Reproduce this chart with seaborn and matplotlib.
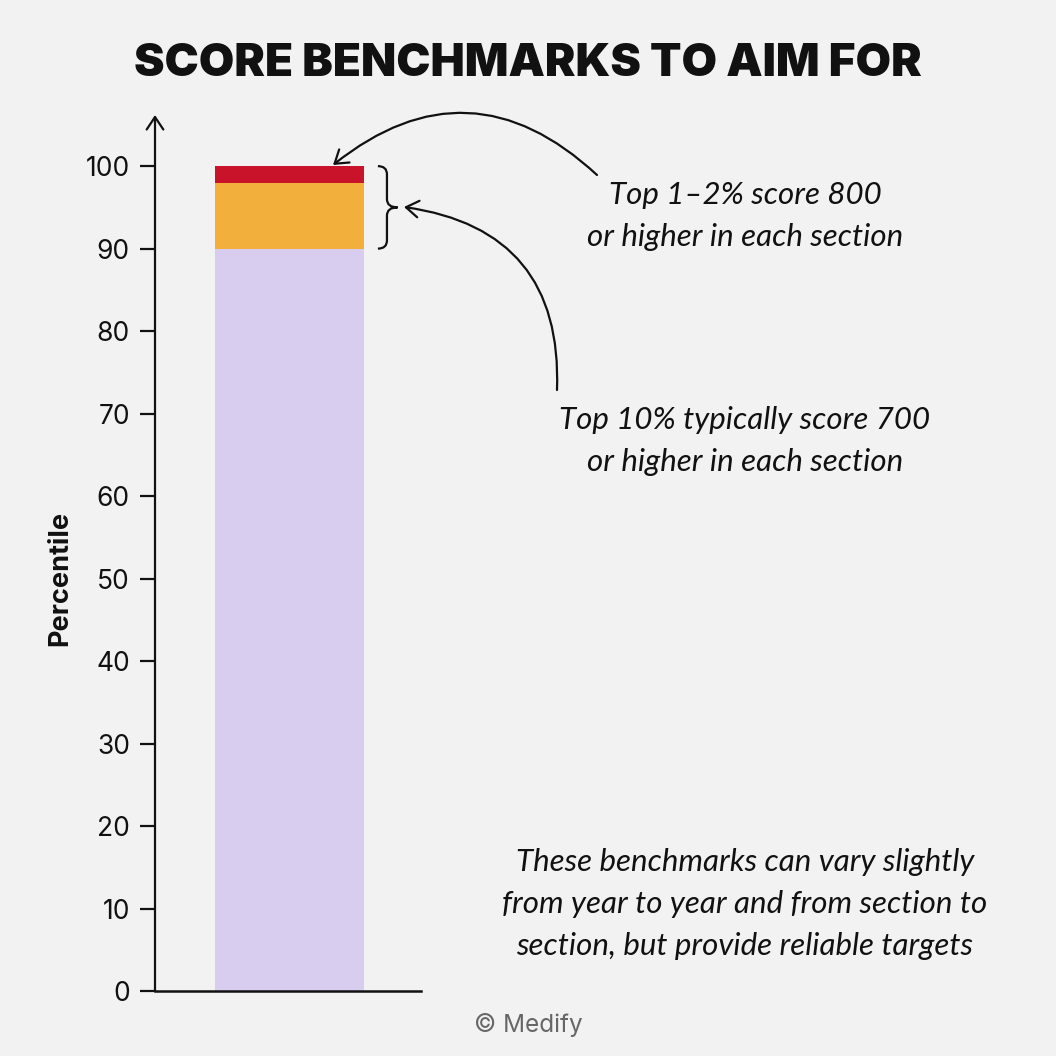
import matplotlib
matplotlib.use("Agg")
import matplotlib.pyplot as plt
from matplotlib.path import Path
from matplotlib.patches import PathPatch
import matplotlib.transforms as mtransforms
import seaborn as sns
import pandas as pd

# ---- data ----
segments = ["Top 1–2%", "Top 10%", "Rest"]
upper_values = [100, 98, 90]          # cumulative top of each stacked segment
segment_colors = ["#C8132B", "#F2AF3B", "#D8CDEF"]
ytick_values = [0, 10, 20, 30, 40, 50, 60, 70, 80, 90, 100]
title_text = "SCORE BENCHMARKS TO AIM FOR"
ylabel_text = "Percentile"
note_top = "Top 1–2% score 800\nor higher in each section"
note_ten = "Top 10% typically score 700\nor higher in each section"
note_bottom = ("These benchmarks can vary slightly\nfrom year to year and from section to\n"
               "section, but provide reliable targets")
credit_text = "© Medify"

BG = "#F2F2F2"
sns.set_theme(style="white")
plt.rcParams["font.family"] = ["Inter", "DejaVu Sans"]

W = 1056
fig = plt.figure(figsize=(10.56, 10.56), dpi=100, facecolor=BG)
ax = fig.add_axes([155 / W, 1 - 991 / W, 266 / W, (991 - 115) / W])
ax.set_facecolor(BG)

df = pd.DataFrame({"group": ["Score"] * 3, "segment": segments, "upper": upper_values})
for seg, col in zip(segments, segment_colors):
    sns.barplot(data=df[df["segment"] == seg], x="group", y="upper", color=col,
                width=0.784, saturation=1, ax=ax, edgecolor="none", linewidth=0)

ax.set_xlim(-0.708, 0.692)
ax.set_ylim(0, 106.2)
ax.set_xlabel("")
ax.set_ylabel("")
ax.set_xticks([])
ax.set_yticks(ytick_values)
ax.set_yticklabels([str(v) for v in ytick_values], fontsize=19, color="#111111")
ax.tick_params(axis="y", direction="out", length=11, width=1.6, color="#111111", pad=7, left=True)
for s in ["top", "right", "left"]:
    ax.spines[s].set_visible(False)
ax.spines["bottom"].set_color("#111111")
ax.spines["bottom"].set_linewidth(1.8)

# y-axis with arrow head
ax.annotate("", xy=(0, 1.0), xytext=(0, 0), xycoords="axes fraction",
            textcoords="axes fraction", annotation_clip=False,
            arrowprops=dict(arrowstyle="->,head_length=0.45,head_width=0.3",
                            lw=1.6, color="#111111", mutation_scale=20,
                            shrinkA=0, shrinkB=0))

# title, ylabel, credit
fig.text(528 / W, 1 - 64 / W, title_text, ha="center", va="center",
         fontsize=33, fontweight="black", color="#111111")
fig.text(60 / W, 1 - 578 / W, ylabel_text, ha="center", va="center", rotation=90,
         fontsize=19.5, fontweight="bold", color="#111111")
fig.text(528 / W, 1 - 1025 / W, credit_text, ha="center", va="center",
         fontsize=17.5, color="#666666")

hand = dict(family=["Lato", "DejaVu Sans"], style="italic", fontsize=22.5,
            color="#111111", ha="center", va="center", linespacing=1.6)
fig.text(745 / W, 1 - 216 / W, note_top, **hand)
fig.text(745 / W, 1 - 441 / W, note_ten, **hand)
fig.text(745 / W, 1 - 904 / W, note_bottom, **hand)

# curly brace between 90 and 100
tr = mtransforms.blended_transform_factory(ax.transAxes, ax.transData)
x0, x1, x2 = 0.838, 0.872, 0.912
lo, hi = upper_values[2], upper_values[0]
mid = (lo + hi) / 2
verts = [(x0, hi), (x1, hi), (x1, hi - 1.0),
         (x1, mid + 1.0),
         (x1, mid), (x2, mid),
         (x1, mid), (x1, mid - 1.0),
         (x1, lo + 1.0),
         (x1, lo), (x0, lo)]
codes = [Path.MOVETO, Path.CURVE3, Path.CURVE3,
         Path.LINETO,
         Path.CURVE3, Path.CURVE3,
         Path.CURVE3, Path.CURVE3,
         Path.LINETO,
         Path.CURVE3, Path.CURVE3]
ax.add_patch(PathPatch(Path(verts, codes), transform=tr, fill=False,
                       lw=1.6, edgecolor="#111111", clip_on=False,
                       joinstyle="miter"))

# curved arrows from notes
arrow_kw = dict(arrowstyle="->,head_length=0.45,head_width=0.3", lw=1.6,
                color="#111111", mutation_scale=20, shrinkA=0, shrinkB=0)
ax.annotate("", xy=(333 / W, 1 - 165 / W), xycoords="figure fraction",
            xytext=(597 / W, 1 - 175 / W), textcoords="figure fraction",
            annotation_clip=False,
            arrowprops=dict(connectionstyle="arc3,rad=0.43", **arrow_kw))
ax.annotate("", xy=(404 / W, 1 - 207 / W), xycoords="figure fraction",
            xytext=(557 / W, 1 - 390 / W), textcoords="figure fraction",
            annotation_clip=False,
            arrowprops=dict(connectionstyle="arc3,rad=0.45", **arrow_kw))

fig.savefig("out.png", dpi=100, facecolor=BG)
